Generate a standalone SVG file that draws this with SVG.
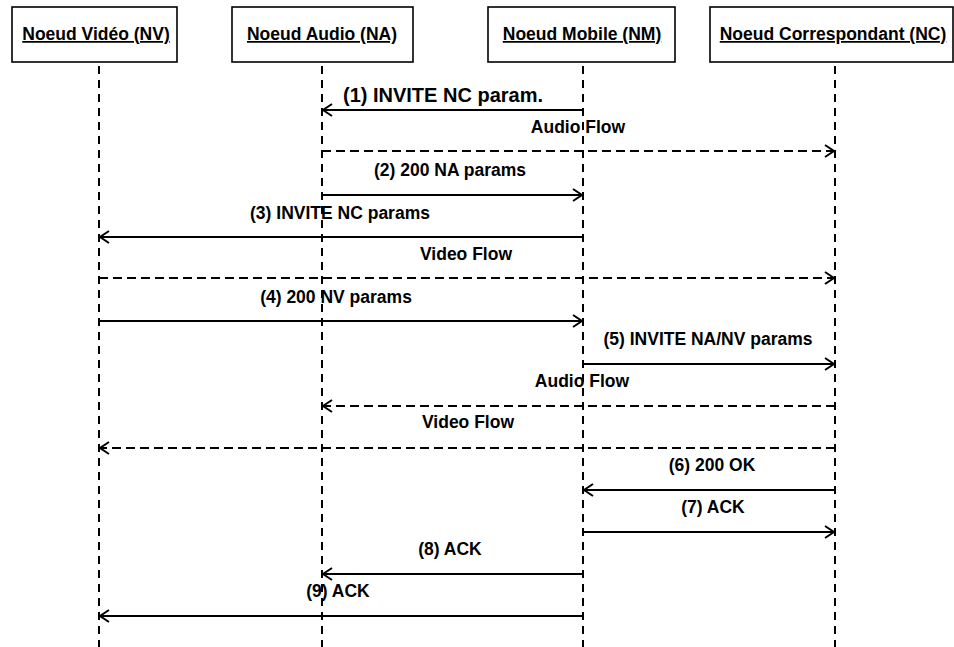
<svg xmlns="http://www.w3.org/2000/svg" width="954" height="647" viewBox="0 0 954 647">
<style>
.box{fill:#fff;stroke:#000;stroke-width:1.6}
.life{stroke:#000;stroke-width:2;stroke-dasharray:8 6;fill:none}
.hdr{font-family:"Liberation Sans",Arial,sans-serif;font-weight:bold;font-size:17.5px;text-anchor:middle;text-decoration:underline;fill:#000}
.msg{stroke:#000;stroke-width:2;fill:none}
.flow{stroke:#000;stroke-width:2;fill:none;stroke-dasharray:9 5}
.lbl{font-family:"Liberation Sans",Arial,sans-serif;font-weight:bold;font-size:17.5px;text-anchor:middle;fill:#000}
</style>
<defs>
<marker id="ah" markerUnits="userSpaceOnUse" markerWidth="16" markerHeight="16" viewBox="-12 -8 14 16" refX="0" refY="0" orient="auto">
<polyline points="-9,-6 0,0 -9,6" fill="none" stroke="#000" stroke-width="2"/>
</marker>
</defs>
<rect width="954" height="647" fill="#fff"/>
<g id="node-nv">
<rect class="box" x="12" y="7" width="165" height="55"/>
<text class="hdr" x="96" y="40">Noeud Vidéo (NV)</text>
<line class="life" x1="99" y1="66" x2="99" y2="647"/>
</g>
<g id="node-na">
<rect class="box" x="232" y="7" width="181" height="55"/>
<text class="hdr" x="322" y="40">Noeud Audio (NA)</text>
<line class="life" x1="322" y1="66" x2="322" y2="647"/>
</g>
<g id="node-nm">
<rect class="box" x="488" y="7" width="187" height="55"/>
<text class="hdr" x="582" y="40">Noeud Mobile (NM)</text>
<line class="life" x1="583" y1="66" x2="583" y2="647"/>
</g>
<g id="node-nc">
<rect class="box" x="710" y="7" width="243" height="55"/>
<text class="hdr" x="833" y="40">Noeud Correspondant (NC)</text>
<line class="life" x1="835" y1="66" x2="835" y2="647"/>
</g>
<g id="connectors">
<line class="msg" x1="583" y1="110" x2="323" y2="110" marker-end="url(#ah)"/>
<line class="flow" x1="322" y1="151" x2="834" y2="151" marker-end="url(#ah)"/>
<line class="msg" x1="322" y1="195" x2="582" y2="195" marker-end="url(#ah)"/>
<line class="msg" x1="583" y1="237" x2="100" y2="237" marker-end="url(#ah)"/>
<line class="flow" x1="99" y1="278" x2="834" y2="278" marker-end="url(#ah)"/>
<line class="msg" x1="99" y1="321" x2="582" y2="321" marker-end="url(#ah)"/>
<line class="msg" x1="583" y1="364" x2="834" y2="364" marker-end="url(#ah)"/>
<line class="flow" x1="835" y1="406" x2="323" y2="406" marker-end="url(#ah)"/>
<line class="flow" x1="835" y1="448" x2="100" y2="448" marker-end="url(#ah)"/>
<line class="msg" x1="835" y1="490" x2="584" y2="490" marker-end="url(#ah)"/>
<line class="msg" x1="583" y1="532" x2="834" y2="532" marker-end="url(#ah)"/>
<line class="msg" x1="583" y1="574" x2="323" y2="574" marker-end="url(#ah)"/>
<line class="msg" x1="583" y1="616" x2="100" y2="616" marker-end="url(#ah)"/>
</g>
<g id="labels">
<text class="lbl" x="443" y="102" style="font-size:20px">(1) INVITE NC param.</text>
<text class="lbl" x="578" y="133">Audio Flow</text>
<text class="lbl" x="450" y="176">(2) 200 NA params</text>
<text class="lbl" x="340" y="219">(3) INVITE NC params</text>
<text class="lbl" x="466" y="260">Video Flow</text>
<text class="lbl" x="336" y="303">(4) 200 NV params</text>
<text class="lbl" x="708" y="345">(5) INVITE NA/NV params</text>
<text class="lbl" x="582" y="387">Audio Flow</text>
<text class="lbl" x="468" y="428">Video Flow</text>
<text class="lbl" x="712" y="471">(6) 200 OK</text>
<text class="lbl" x="713" y="513">(7) ACK</text>
<text class="lbl" x="450" y="555">(8) ACK</text>
<text class="lbl" x="338" y="597">(9) ACK</text>
</g>
</svg>
